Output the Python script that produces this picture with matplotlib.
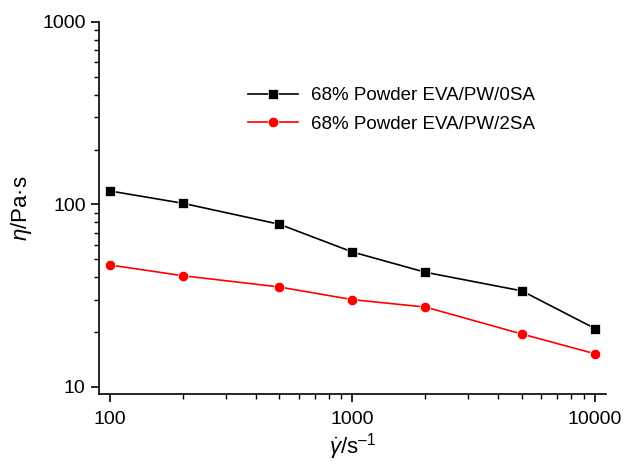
import matplotlib
matplotlib.use("Agg")
import matplotlib.pyplot as plt
from matplotlib.ticker import LogLocator, NullFormatter, FixedLocator, FixedFormatter

plt.rcParams['font.family'] = ['Liberation Sans', 'DejaVu Sans']
plt.rcParams['mathtext.fontset'] = 'custom'
plt.rcParams['mathtext.rm'] = 'Liberation Sans'
plt.rcParams['mathtext.it'] = 'Liberation Sans:italic'

shear_rate = [100, 200, 500, 1000, 2000, 5000, 10000]
eta_0SA = [118.6, 101.5, 77.9, 54.9, 42.5, 33.6, 20.9]
eta_2SA = [46.6, 40.7, 35.3, 30.1, 27.4, 19.5, 15.2]
labels = ['68% Powder EVA/PW/0SA', '68% Powder EVA/PW/2SA']
xticks = [100, 1000, 10000]
yticks = [10, 100, 1000]

fig = plt.figure(figsize=(6.26, 4.65), dpi=100)
ax = fig.add_axes([0.158, 0.1527, 0.81, 0.80])

ax.plot(shear_rate, eta_0SA, color='black', lw=1.2, marker='s', ms=6.5,
        markeredgecolor='white', markeredgewidth=0.5, label=labels[0])
ax.plot(shear_rate, eta_2SA, color='red', lw=1.2, marker='o', ms=7.5,
        markeredgecolor='white', markeredgewidth=0.5, label=labels[1])

ax.set_xscale('log')
ax.set_yscale('log')
ax.set_xlim(90.1, 11100)
ax.set_ylim(9.15, 1000)

ax.xaxis.set_major_locator(FixedLocator(xticks))
ax.xaxis.set_major_formatter(FixedFormatter([str(v) for v in xticks]))
ax.yaxis.set_major_locator(FixedLocator(yticks))
ax.yaxis.set_major_formatter(FixedFormatter([str(v) for v in yticks]))
ax.xaxis.set_minor_locator(LogLocator(base=10, subs=range(2, 10)))
ax.yaxis.set_minor_locator(LogLocator(base=10, subs=range(2, 10)))
ax.xaxis.set_minor_formatter(NullFormatter())
ax.yaxis.set_minor_formatter(NullFormatter())

for s in ['top', 'right']:
    ax.spines[s].set_visible(False)
for s in ['left', 'bottom']:
    ax.spines[s].set_linewidth(1.2)

ax.tick_params(which='major', direction='out', length=5.5, width=1.2, labelsize=14)
ax.tick_params(axis='x', which='major', pad=7)
ax.tick_params(axis='y', which='major', pad=4)
ax.tick_params(which='minor', direction='out', length=3.5, width=1.0)

ax.set_ylabel(r'$\it{\eta}$/Pa·s', fontsize=16, labelpad=6)
ax.set_xlabel(r'$\dot{\mathit{\gamma}}$/s$^{\mathrm{–1}}$', fontsize=16, labelpad=2)

ax.legend(loc='upper left', bbox_to_anchor=(248 / 626, 1 - 87 / 465),
          bbox_transform=fig.transFigure, frameon=False, fontsize=13.5,
          handlelength=2.67, handletextpad=0.7, borderaxespad=0, borderpad=0,
          labelspacing=0.62)

fig.savefig('out.png', dpi=100)
